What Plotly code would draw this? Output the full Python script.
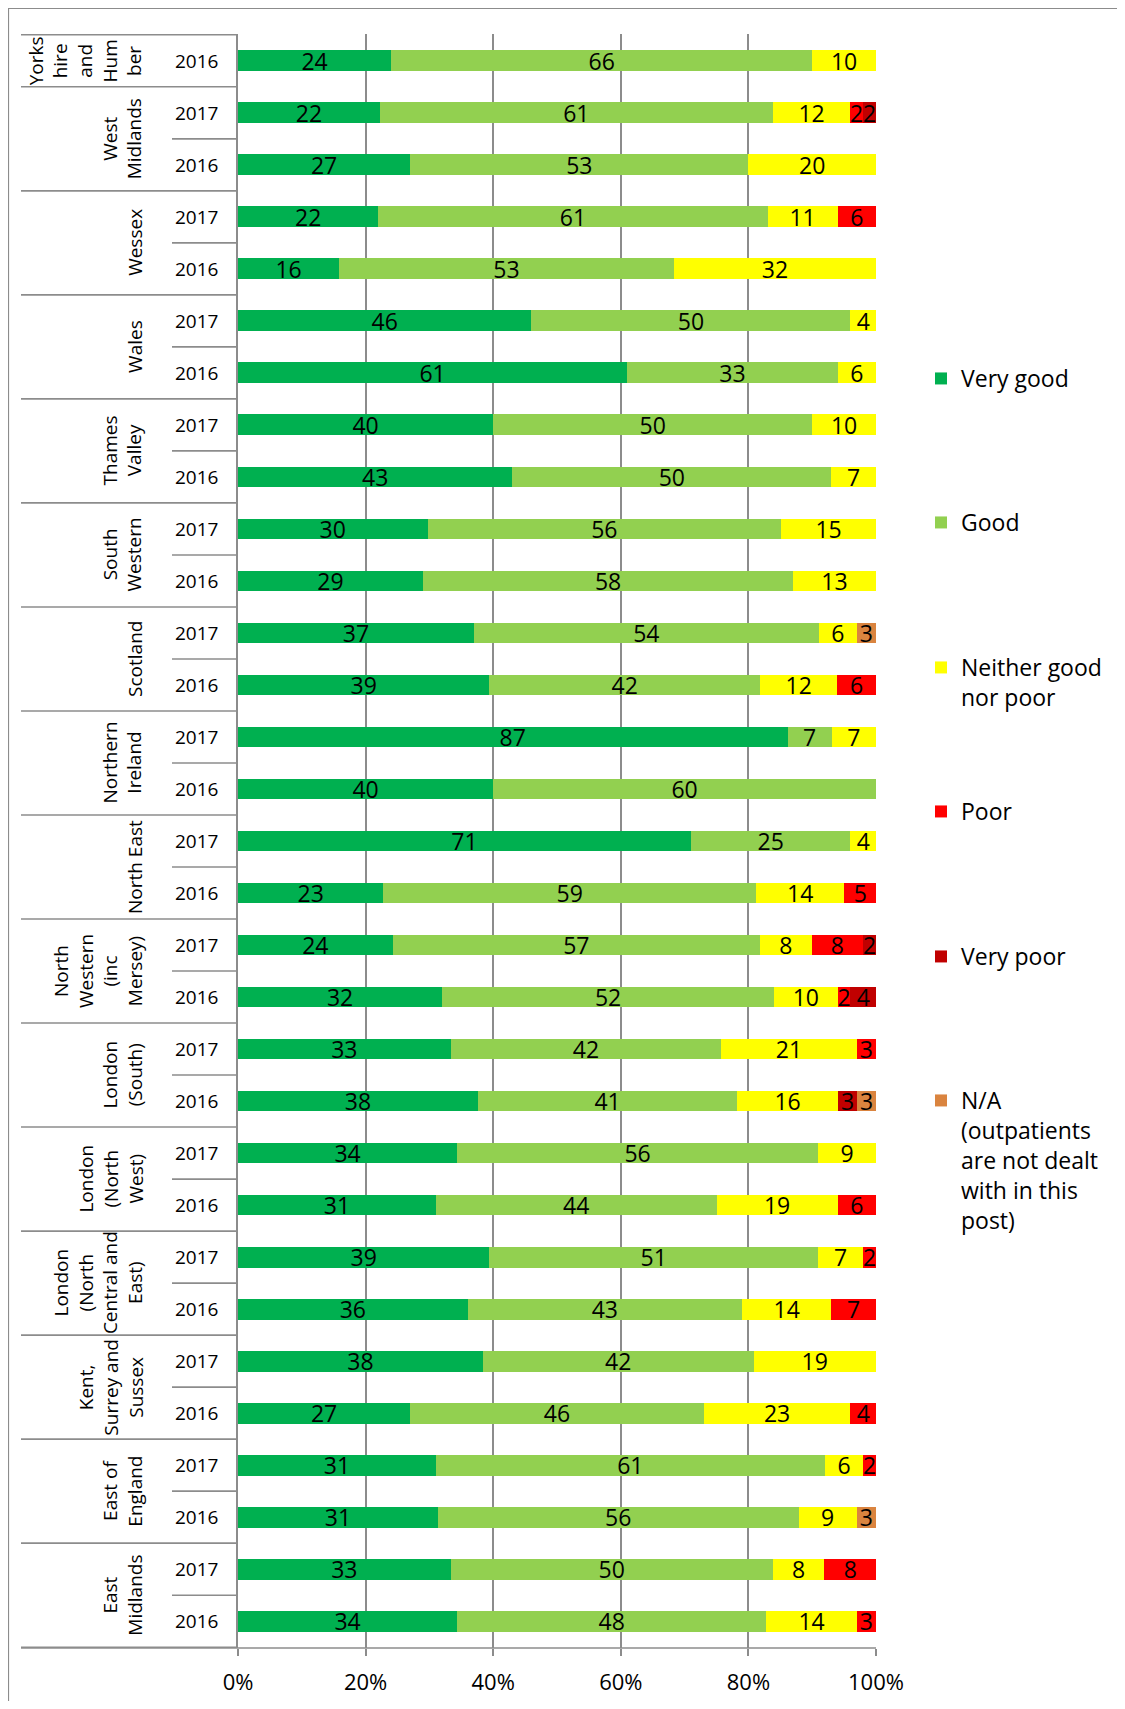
import plotly.graph_objects as go

# ---------------- data (top to bottom as in the chart) ----------------
regions = ["Yorkshire and Humber",
           "West Midlands", "West Midlands",
           "Wessex", "Wessex",
           "Wales", "Wales",
           "Thames Valley", "Thames Valley",
           "South Western", "South Western",
           "Scotland", "Scotland",
           "Northern Ireland", "Northern Ireland",
           "North East", "North East",
           "North Western (inc Mersey)", "North Western (inc Mersey)",
           "London (South)", "London (South)",
           "London (North West)", "London (North West)",
           "London (North Central and East)", "London (North Central and East)",
           "Kent, Surrey and Sussex", "Kent, Surrey and Sussex",
           "East of England", "East of England",
           "East Midlands", "East Midlands"]
years = ["2016",
         "2017", "2016", "2017", "2016", "2017", "2016", "2017", "2016",
         "2017", "2016", "2017", "2016", "2017", "2016", "2017", "2016",
         "2017", "2016", "2017", "2016", "2017", "2016", "2017", "2016",
         "2017", "2016", "2017", "2016", "2017", "2016"]

very_good = [24, 22, 27, 22, 16, 46, 61, 40, 43, 30, 29, 37, 39, 87, 40, 71,
             23, 24, 32, 33, 38, 34, 31, 39, 36, 38, 27, 31, 31, 33, 34]
good = [66, 61, 53, 61, 53, 50, 33, 50, 50, 56, 58, 54, 42, 7, 60, 25,
        59, 57, 52, 42, 41, 56, 44, 51, 43, 42, 46, 61, 56, 50, 48]
neither = [10, 12, 20, 11, 32, 4, 6, 10, 7, 15, 13, 6, 12, 7, 0, 4,
           14, 8, 10, 21, 16, 9, 19, 7, 14, 19, 23, 6, 9, 8, 14]
poor = [0, 2, 0, 6, 0, 0, 0, 0, 0, 0, 0, 0, 6, 0, 0, 0,
        5, 8, 2, 3, 0, 0, 6, 2, 7, 0, 4, 2, 0, 8, 3]
very_poor = [0, 2, 0, 0, 0, 0, 0, 0, 0, 0, 0, 0, 0, 0, 0, 0,
             0, 2, 4, 0, 3, 0, 0, 0, 0, 0, 0, 0, 0, 0, 0]
not_applicable = [0, 0, 0, 0, 0, 0, 0, 0, 0, 0, 0, 3, 0, 0, 0, 0,
                  0, 0, 0, 0, 3, 0, 0, 0, 0, 0, 0, 0, 3, 0, 0]

region_display = {
    "Yorkshire and Humber": "Yorks<br>hire<br>and<br>Hum<br>ber",
    "West Midlands": "West<br>Midlands",
    "Wessex": "Wessex",
    "Wales": "Wales",
    "Thames Valley": "Thames<br>Valley",
    "South Western": "South<br>Western",
    "Scotland": "Scotland",
    "Northern Ireland": "Northern<br>Ireland",
    "North East": "North East",
    "North Western (inc Mersey)": "North<br>Western<br>(inc<br>Mersey)",
    "London (South)": "London<br>(South)",
    "London (North West)": "London<br>(North<br>West)",
    "London (North Central and East)": "London<br>(North<br>Central and<br>East)",
    "Kent, Surrey and Sussex": "Kent,<br>Surrey and<br>Sussex",
    "East of England": "East of<br>England",
    "East Midlands": "East<br>Midlands",
}

series_names = ["Very good", "Good", "Neither good<br>nor poor", "Poor",
                "Very poor", "N/A<br>(outpatients<br>are not dealt<br>with in this<br>post)"]
series_values = [very_good, good, neither, poor, very_poor, not_applicable]
series_colors = ["#00B050", "#92D050", "#FFFF00", "#FF0000", "#C00000", "#DA843F"]

x_ticks = [0, 20, 40, 60, 80, 100]
x_tick_text = ["0%", "20%", "40%", "60%", "80%", "100%"]

# ---------------- geometry (figure pixels; page body has 8px margin) ----------------
OFF = 8
W, H = 1125 - 2 * OFF, 1709 - 2 * OFF
PL, PR, PT, PB = 238, 876, 34, 1648   # plot area in reference pixel coords
FONT = "Open Sans"
GRID = "#8C8C8C"


def px(xr):
    return (xr - PL) / (PR - PL)


def py(yr):
    return (PB - yr) / (PB - PT)


cats = [f"{r}|{y}" for r, y in zip(regions, years)]

fig = go.Figure()
for k, (name, vals, col) in enumerate(zip(series_names, series_values, series_colors)):
    fig.add_trace(go.Bar(
        y=cats, x=vals, orientation="h", name=name,
        marker=dict(color=col, line=dict(width=0)),
        text=[str(v) if v else "" for v in vals],
        textposition="inside", insidetextanchor="middle", textangle=0,
        textfont=dict(family=FONT, size=23, color="black"),
        hoverinfo="skip",
        legend="legend" if k == 0 else f"legend{k + 1}",
    ))

shapes = []
annotations = []

# group boundaries
n = len(cats)
groups = []
start = 0
for i in range(1, n + 1):
    if i == n or regions[i] != regions[start]:
        groups.append((regions[start], start, i - 1))
        start = i

line_style = dict(color=GRID, width=1.6)
# top line of category area
shapes.append(dict(type="line", xref="paper", yref="y", x0=px(21), x1=0,
                   y0=-0.5, y1=-0.5, line=line_style))
for name, a, b in groups:
    shapes.append(dict(type="line", xref="paper", yref="y", x0=px(21), x1=0,
                       y0=b + 0.5, y1=b + 0.5, line=line_style))
    for j in range(a, b):
        shapes.append(dict(type="line", xref="paper", yref="y", x0=px(172), x1=0,
                           y0=j + 0.5, y1=j + 0.5, line=line_style))
    annotations.append(dict(
        text=region_display[name], xref="paper", yref="y",
        x=px(150), y=(a + b) / 2, xanchor="right", yanchor="middle",
        textangle=-90, showarrow=False, align="center",
        font=dict(family=FONT, size=19, color="black")))

for i, (c, yv) in enumerate(zip(cats, years)):
    annotations.append(dict(
        text=yv, xref="paper", yref="y", x=px(196), y=i,
        xanchor="center", yanchor="middle", showarrow=False,
        font=dict(family=FONT, size=19, color="black")))

# bottom axis line spanning category area too
shapes.append(dict(type="line", xref="paper", yref="paper", x0=px(21), x1=1,
                   y0=0, y1=0, line=line_style))
# outer chart border
shapes.append(dict(type="rect", xref="paper", yref="paper",
                   x0=px(OFF + 0.5), x1=px(1200), y0=py(OFF + 0.5), y1=py(1800),
                   line=dict(color="#8C8C8C", width=1.2), fillcolor="rgba(0,0,0,0)"))

# legends: one per series, positioned individually
legend_top = [378, 522, 667, 811, 956, 1100]
legend_layouts = {}
for k, yt in enumerate(legend_top):
    key = "legend" if k == 0 else f"legend{k + 1}"
    legend_layouts[key] = dict(
        x=px(921), y=py(yt - 21), xanchor="left", yanchor="top",
        font=dict(family=FONT, size=23, color="black"),
        bgcolor="rgba(0,0,0,0)", borderwidth=0, valign="top",
        itemsizing="constant",
    )

fig.update_layout(
    width=W, height=H,
    margin=dict(l=PL - OFF, r=W - (PR - OFF), t=PT - OFF, b=H - (PB - OFF),
                pad=0, autoexpand=False),
    barmode="stack", barnorm="percent", bargap=0.6,
    plot_bgcolor="white", paper_bgcolor="white",
    uniformtext=dict(minsize=23, mode="show"),
    showlegend=True,
    xaxis=dict(range=[0, 100], tickvals=x_ticks, ticktext=x_tick_text,
               showgrid=True, gridcolor=GRID, gridwidth=1.6, zeroline=False,
               showline=False, ticks="outside", ticklen=7, tickwidth=1.6,
               tickcolor=GRID, ticklabelstandoff=8, automargin=False,
               tickfont=dict(family=FONT, size=22, color="black"),
               fixedrange=True),
    yaxis=dict(categoryorder="array", categoryarray=cats, autorange="reversed",
               showticklabels=False, showgrid=False, zeroline=False,
               showline=True, linecolor=GRID, linewidth=1.6, ticks="",
               automargin=False, fixedrange=True),
    shapes=shapes, annotations=annotations,
    **legend_layouts,
)

fig.write_html("out.html")
